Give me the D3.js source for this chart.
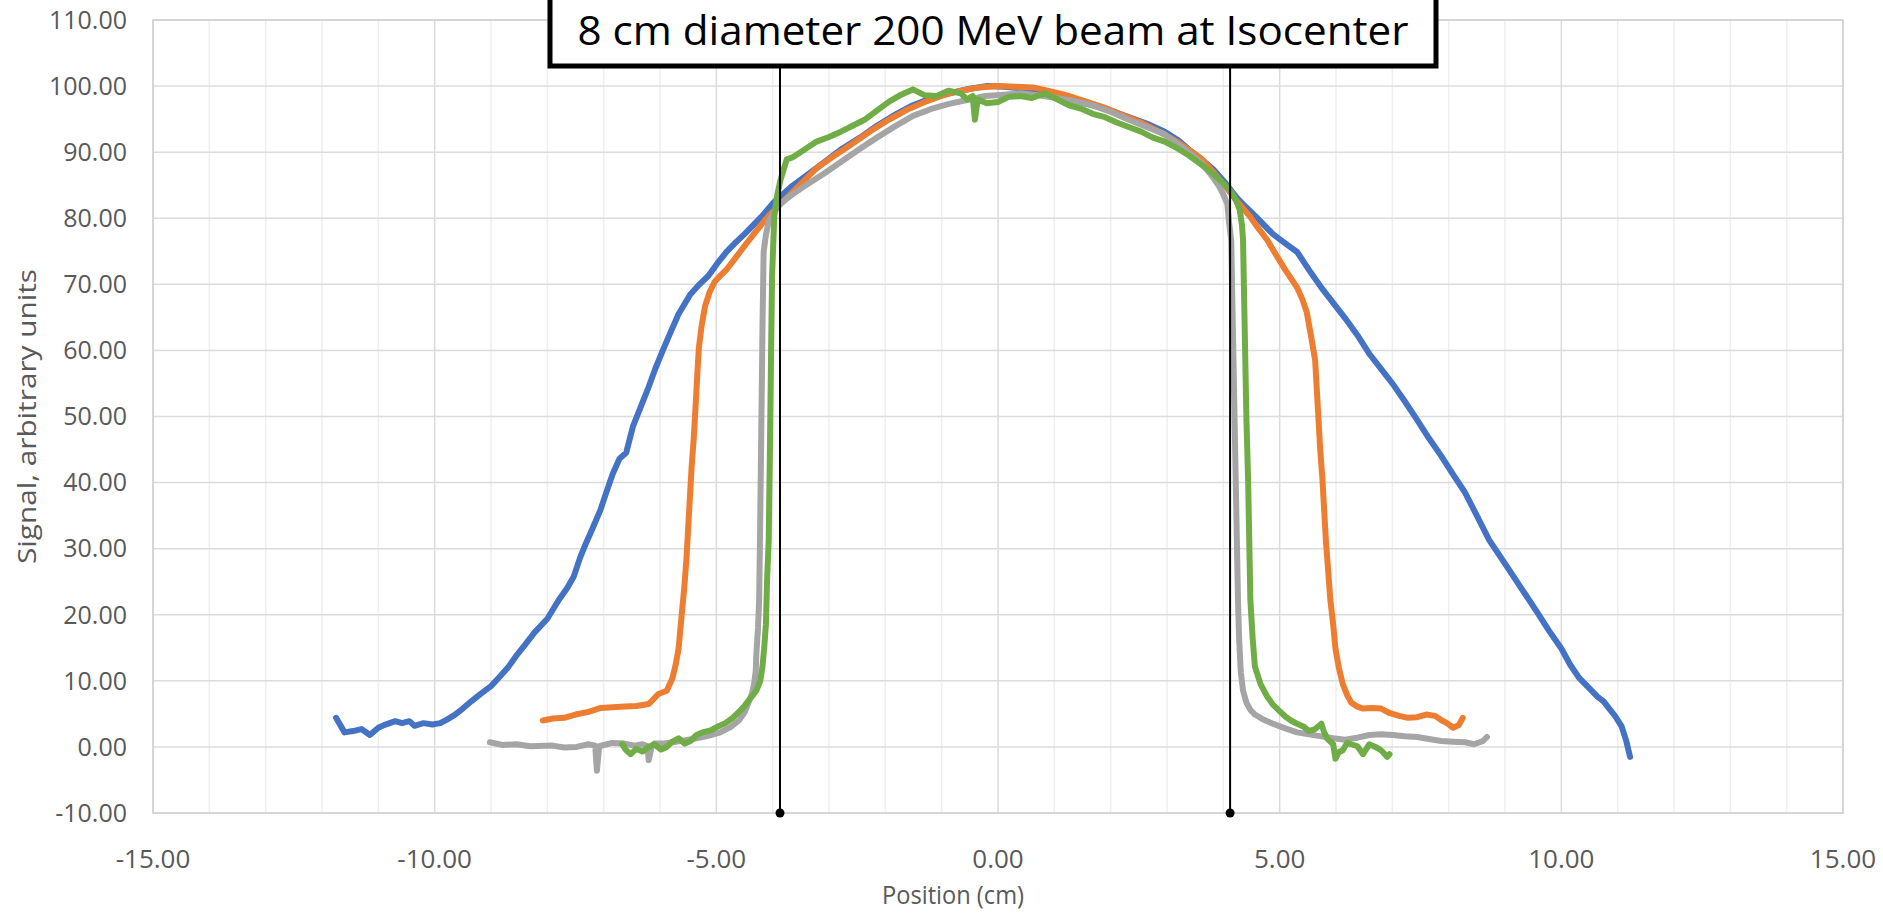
<!DOCTYPE html>
<html>
<head>
<meta charset="utf-8">
<script src="https://cdn.jsdelivr.net/npm/d3@7"></script>
<style>
  body { margin: 0; background: #fff; }
  text { font-family: "Open Sans", "Noto Sans", sans-serif; }
</style>
</head>
<body>
<div id="chart"></div>
<script>
// profile readings, [position cm, signal]
const blue = [[-11.75,4.4],[-11.6,2.2],[-11.45,2.4],[-11.3,2.7],[-11.15,1.8],[-11.0,2.9],[-10.9,3.3],[-10.7,3.9],[-10.58,3.6],[-10.45,3.9],[-10.36,3.2],[-10.2,3.6],[-10.04,3.4],[-9.9,3.6],[-9.79,4.1],[-9.65,4.8],[-9.5,5.8],[-9.35,6.9],[-9.19,8.0],[-9.0,9.2],[-8.87,10.4],[-8.7,12.0],[-8.55,13.8],[-8.4,15.4],[-8.23,17.3],[-8.0,19.4],[-7.8,22.2],[-7.65,24.0],[-7.53,25.8],[-7.42,28.6],[-7.31,30.9],[-7.2,33.0],[-7.06,35.8],[-6.95,38.6],[-6.84,41.3],[-6.72,43.6],[-6.6,44.5],[-6.48,48.5],[-6.34,51.5],[-6.2,54.5],[-6.08,57.3],[-5.95,60.0],[-5.8,63.0],[-5.67,65.5],[-5.46,68.5],[-5.3,70.0],[-5.14,71.3],[-4.98,73.2],[-4.82,74.9],[-4.66,76.3],[-4.5,77.6],[-4.34,79.0],[-4.18,80.4],[-3.97,82.5],[-3.65,84.9],[-3.22,87.6],[-2.79,90.4],[-2.45,92.2],[-2.15,94.0],[-1.8,95.8],[-1.51,97.1],[-1.2,98.1],[-0.87,98.9],[-0.5,99.6],[-0.19,100.0],[0.1,99.9],[0.4,99.7],[0.7,99.2],[1.04,98.5],[1.35,97.8],[1.68,97.1],[2.0,96.3],[2.32,95.3],[2.65,94.3],[2.96,93.1],[3.2,91.8],[3.39,90.4],[3.6,89.0],[3.82,87.4],[4.04,85.3],[4.24,83.1],[4.4,81.7],[4.56,80.4],[4.72,79.0],[4.88,77.6],[5.1,76.2],[5.31,74.9],[5.52,72.2],[5.74,69.5],[5.95,67.2],[6.16,64.9],[6.38,62.3],[6.59,59.5],[6.8,57.2],[7.01,54.9],[7.22,52.3],[7.44,49.5],[7.65,46.7],[7.87,44.0],[8.08,41.2],[8.29,38.5],[8.5,35.0],[8.72,31.3],[8.94,28.5],[9.15,25.8],[9.36,23.1],[9.57,20.4],[9.78,17.6],[10.0,14.9],[10.16,12.4],[10.32,10.4],[10.48,9.0],[10.64,7.6],[10.75,6.9],[10.85,5.8],[10.96,4.6],[11.07,3.1],[11.15,1.0],[11.22,-1.5]];

const orange = [[-8.08,4.0],[-7.9,4.3],[-7.7,4.4],[-7.5,4.9],[-7.27,5.3],[-7.05,5.9],[-6.84,6.0],[-6.62,6.1],[-6.42,6.2],[-6.2,6.5],[-6.03,8.0],[-5.88,8.5],[-5.78,10.4],[-5.72,12.5],[-5.67,14.9],[-5.62,19.5],[-5.57,24.0],[-5.53,28.5],[-5.5,33.1],[-5.47,37.6],[-5.44,42.2],[-5.4,46.8],[-5.37,51.3],[-5.34,56.0],[-5.31,60.4],[-5.26,63.8],[-5.2,66.7],[-5.12,68.8],[-5.03,70.4],[-4.92,71.4],[-4.82,72.2],[-4.66,74.0],[-4.5,75.8],[-4.28,78.2],[-4.07,80.4],[-3.75,83.1],[-3.22,87.6],[-2.9,89.5],[-2.58,91.3],[-2.26,93.2],[-1.94,94.9],[-1.62,96.4],[-1.3,97.6],[-0.98,98.6],[-0.66,99.3],[-0.33,99.8],[0.0,100.0],[0.31,99.9],[0.62,99.8],[0.94,99.2],[1.26,98.5],[1.58,97.6],[1.9,96.7],[2.22,95.6],[2.54,94.5],[2.86,93.1],[3.18,91.6],[3.4,90.3],[3.6,89.1],[3.82,87.0],[4.03,84.9],[4.24,82.6],[4.46,80.4],[4.62,78.5],[4.78,76.7],[4.94,74.4],[5.1,72.2],[5.21,70.8],[5.31,69.5],[5.4,67.8],[5.48,65.8],[5.55,62.5],[5.63,58.5],[5.66,54.0],[5.69,49.5],[5.72,45.0],[5.76,40.4],[5.79,35.8],[5.82,31.3],[5.86,26.8],[5.9,22.2],[5.95,18.5],[5.99,14.9],[6.05,12.0],[6.12,9.5],[6.2,7.8],[6.27,6.7],[6.38,6.1],[6.48,5.8],[6.64,5.9],[6.8,5.8],[6.96,5.1],[7.12,4.7],[7.28,4.4],[7.44,4.5],[7.6,4.9],[7.76,4.7],[7.88,4.0],[7.97,3.6],[8.08,2.9],[8.18,3.3],[8.25,4.4]];

const gray = [[-9.02,0.7],[-8.8,0.3],[-8.55,0.4],[-8.3,0.1],[-7.91,0.2],[-7.7,-0.1],[-7.48,0.0],[-7.27,0.4],[-7.15,0.2],[-7.12,-3.6],[-7.08,0.1],[-6.85,0.6],[-6.63,0.5],[-6.45,0.2],[-6.31,0.4],[-6.22,0.1],[-6.2,-2.0],[-6.15,0.0],[-6.1,0.5],[-5.95,0.5],[-5.78,0.7],[-5.55,1.0],[-5.35,1.3],[-5.13,1.7],[-4.93,2.2],[-4.75,3.0],[-4.6,4.0],[-4.5,5.2],[-4.43,6.7],[-4.37,8.0],[-4.33,9.5],[-4.3,11.5],[-4.29,14.0],[-4.26,18.0],[-4.24,22.2],[-4.23,28.5],[-4.22,34.9],[-4.21,42.0],[-4.2,49.5],[-4.19,56.5],[-4.18,64.0],[-4.17,69.5],[-4.16,74.9],[-4.12,77.5],[-4.07,79.5],[-3.97,81.0],[-3.86,82.2],[-3.65,83.6],[-3.43,84.9],[-3.1,86.7],[-2.79,88.5],[-2.47,90.4],[-2.15,92.2],[-1.83,93.9],[-1.51,95.5],[-1.2,96.5],[-0.87,97.3],[-0.55,97.9],[-0.23,98.5],[0.1,98.7],[0.4,98.9],[0.72,98.6],[1.04,98.2],[1.36,97.7],[1.68,97.1],[2.0,96.1],[2.32,94.9],[2.64,93.8],[2.96,92.7],[3.28,90.7],[3.6,88.5],[3.76,86.8],[3.92,84.9],[4.0,83.6],[4.07,82.2],[4.1,79.5],[4.14,76.7],[4.16,67.5],[4.18,58.5],[4.2,49.5],[4.22,40.4],[4.24,31.3],[4.26,22.2],[4.28,16.5],[4.31,11.3],[4.35,8.5],[4.41,6.7],[4.48,5.6],[4.56,4.9],[4.72,4.1],[4.88,3.5],[5.1,2.8],[5.31,2.2],[5.52,1.9],[5.74,1.6],[5.95,1.3],[6.16,1.1],[6.38,1.4],[6.59,1.8],[6.8,1.9],[7.01,1.8],[7.22,1.6],[7.44,1.5],[7.65,1.2],[7.87,0.9],[8.08,0.8],[8.29,0.7],[8.45,0.4],[8.61,0.9],[8.68,1.5]];

const green = [[-6.67,0.4],[-6.6,-0.5],[-6.52,-1.1],[-6.42,-0.3],[-6.31,-0.7],[-6.2,0.0],[-6.1,0.4],[-5.98,-0.4],[-5.88,0.0],[-5.78,0.8],[-5.67,1.3],[-5.56,0.5],[-5.46,0.9],[-5.35,1.8],[-5.25,2.2],[-5.1,2.5],[-4.97,3.1],[-4.84,3.6],[-4.71,4.4],[-4.6,5.3],[-4.5,6.2],[-4.4,7.3],[-4.29,8.5],[-4.22,10.0],[-4.18,12.2],[-4.15,15.0],[-4.12,18.5],[-4.1,25.0],[-4.07,31.3],[-4.06,38.0],[-4.05,44.0],[-4.04,51.0],[-4.03,58.5],[-4.02,65.0],[-4.01,71.3],[-3.99,76.0],[-3.97,80.4],[-3.92,83.5],[-3.86,85.8],[-3.8,87.5],[-3.75,88.9],[-3.65,89.2],[-3.54,89.8],[-3.38,90.7],[-3.22,91.6],[-3.0,92.3],[-2.79,93.1],[-2.58,94.0],[-2.37,94.9],[-2.15,96.3],[-1.94,97.6],[-1.72,98.7],[-1.51,99.5],[-1.3,98.6],[-1.09,98.5],[-0.88,99.3],[-0.66,98.9],[-0.55,98.0],[-0.45,98.5],[-0.41,94.9],[-0.36,98.0],[-0.2,97.4],[0.0,97.6],[0.2,98.4],[0.4,98.5],[0.6,98.2],[0.83,98.9],[1.05,98.0],[1.26,97.1],[1.47,96.6],[1.68,95.8],[1.9,95.3],[2.11,94.5],[2.32,93.8],[2.54,93.1],[2.75,92.2],[2.96,91.6],[3.18,90.6],[3.39,89.5],[3.6,88.2],[3.82,86.7],[3.98,85.5],[4.14,84.0],[4.22,82.8],[4.29,81.3],[4.33,79.0],[4.35,76.7],[4.37,67.5],[4.39,58.5],[4.41,49.5],[4.44,40.4],[4.46,31.3],[4.48,22.2],[4.52,16.5],[4.56,12.2],[4.66,9.5],[4.78,7.6],[4.88,6.4],[4.99,5.5],[5.1,4.6],[5.2,4.0],[5.31,3.5],[5.42,3.1],[5.52,2.4],[5.63,2.7],[5.74,3.5],[5.79,2.2],[5.84,1.3],[5.95,0.4],[5.99,-1.8],[6.05,-0.8],[6.12,-0.5],[6.2,0.6],[6.27,0.4],[6.38,0.1],[6.48,-1.1],[6.54,-0.3],[6.59,0.4],[6.7,0.0],[6.8,-0.5],[6.91,-1.5],[6.95,-1.1]];

const seriesList = [
  { name: "blue", data: blue, color: "#4472C4" },
  { name: "orange", data: orange, color: "#ED7D31" },
  { name: "gray", data: gray, color: "#A5A5A5" },
  { name: "green", data: green, color: "#70AD47" }
];

const xMajorTicks = [-15, -10, -5, 0, 5, 10, 15];
const xMinorTicks = d3.range(-15, 16, 1);
const yTicks = [-10, 0, 10, 20, 30, 40, 50, 60, 70, 80, 90, 100, 110];
const edgeMarkers = [-3.87, 4.12];
const titleText = "8 cm diameter 200 MeV beam at Isocenter";

const width = 1883, height = 918;
const margin = { top: 20, right: 40, bottom: 105, left: 153 };

const svg = d3.select("#chart").append("svg")
    .attr("width", width)
    .attr("height", height);

const x = d3.scaleLinear().domain([-15, 15]).range([margin.left, width - margin.right]);
const y = d3.scaleLinear().domain([-10, 110]).range([height - margin.bottom, margin.top]);

// minor vertical grid
svg.append("g").selectAll("line")
    .data(xMinorTicks.filter(d => d % 5 !== 0))
    .join("line")
    .attr("x1", d => x(d)).attr("x2", d => x(d))
    .attr("y1", y(-10)).attr("y2", y(110))
    .attr("stroke", "#efefef").attr("stroke-width", 1.5);

// major vertical grid
svg.append("g").selectAll("line")
    .data(xMajorTicks)
    .join("line")
    .attr("x1", d => x(d)).attr("x2", d => x(d))
    .attr("y1", y(-10)).attr("y2", y(110))
    .attr("stroke", "#dcdcdc").attr("stroke-width", 1.5);

// horizontal grid
svg.append("g").selectAll("line")
    .data(yTicks)
    .join("line")
    .attr("x1", x(-15)).attr("x2", x(15))
    .attr("y1", d => y(d)).attr("y2", d => y(d))
    .attr("stroke", "#dcdcdc").attr("stroke-width", 1.5);

// plot border
svg.append("rect")
    .attr("x", x(-15)).attr("y", y(110))
    .attr("width", x(15) - x(-15)).attr("height", y(-10) - y(110))
    .attr("fill", "none").attr("stroke", "#d0d0d0").attr("stroke-width", 1.5);

// tick labels
svg.append("g").selectAll("text")
    .data(yTicks)
    .join("text")
    .attr("x", x(-15) - 26)
    .attr("y", d => y(d))
    .attr("dy", "0.35em")
    .attr("text-anchor", "end")
    .attr("fill", "#595959")
    .style("font-size", "25px")
    .text(d => d.toFixed(2));

svg.append("g").selectAll("text")
    .data(xMajorTicks)
    .join("text")
    .attr("x", d => x(d))
    .attr("y", y(-10) + 46)
    .attr("dy", "0.35em")
    .attr("text-anchor", "middle")
    .attr("fill", "#595959")
    .style("font-size", "26px")
    .text(d => d.toFixed(2));

// axis titles
svg.append("text")
    .attr("x", 953).attr("y", 895)
    .attr("dy", "0.35em")
    .attr("text-anchor", "middle")
    .attr("fill", "#595959")
    .attr("textLength", 142)
    .attr("lengthAdjust", "spacingAndGlyphs")
    .style("font-size", "25px")
    .text("Position (cm)");

svg.append("text")
    .attr("transform", `translate(27, ${y(50)}) rotate(-90)`)
    .attr("dy", "0.35em")
    .attr("text-anchor", "middle")
    .attr("fill", "#595959")
    .attr("textLength", 295)
    .attr("lengthAdjust", "spacingAndGlyphs")
    .style("font-size", "26px")
    .text("Signal, arbitrary units");

// series lines
const line = d3.line().x(d => x(d[0])).y(d => y(d[1]));

svg.append("g").selectAll("path")
    .data(seriesList)
    .join("path")
    .attr("d", d => line(d.data))
    .attr("fill", "none")
    .attr("stroke", d => d.color)
    .attr("stroke-width", 6)
    .attr("stroke-linejoin", "round")
    .attr("stroke-linecap", "round");

// title box
const boxTop = -10, boxBottom = 66, boxLeft = 550, boxRight = 1436;

// edge markers
svg.append("g").selectAll("line")
    .data(edgeMarkers)
    .join("line")
    .attr("x1", d => x(d)).attr("x2", d => x(d))
    .attr("y1", boxBottom).attr("y2", y(-10))
    .attr("stroke", "#000").attr("stroke-width", 2);

svg.append("g").selectAll("circle")
    .data(edgeMarkers)
    .join("circle")
    .attr("cx", d => x(d)).attr("cy", y(-10))
    .attr("r", 4.5)
    .attr("fill", "#000");

svg.append("rect")
    .attr("x", boxLeft).attr("y", boxTop)
    .attr("width", boxRight - boxLeft).attr("height", boxBottom - boxTop)
    .attr("fill", "#fff")
    .attr("stroke", "#000").attr("stroke-width", 5);

svg.append("text")
    .attr("x", (boxLeft + boxRight) / 2).attr("y", 45)
    .attr("text-anchor", "middle")
    .attr("fill", "#000")
    .attr("textLength", 831)
    .attr("lengthAdjust", "spacingAndGlyphs")
    .style("font-size", "40px")
    .text(titleText);
</script>
</body>
</html>
